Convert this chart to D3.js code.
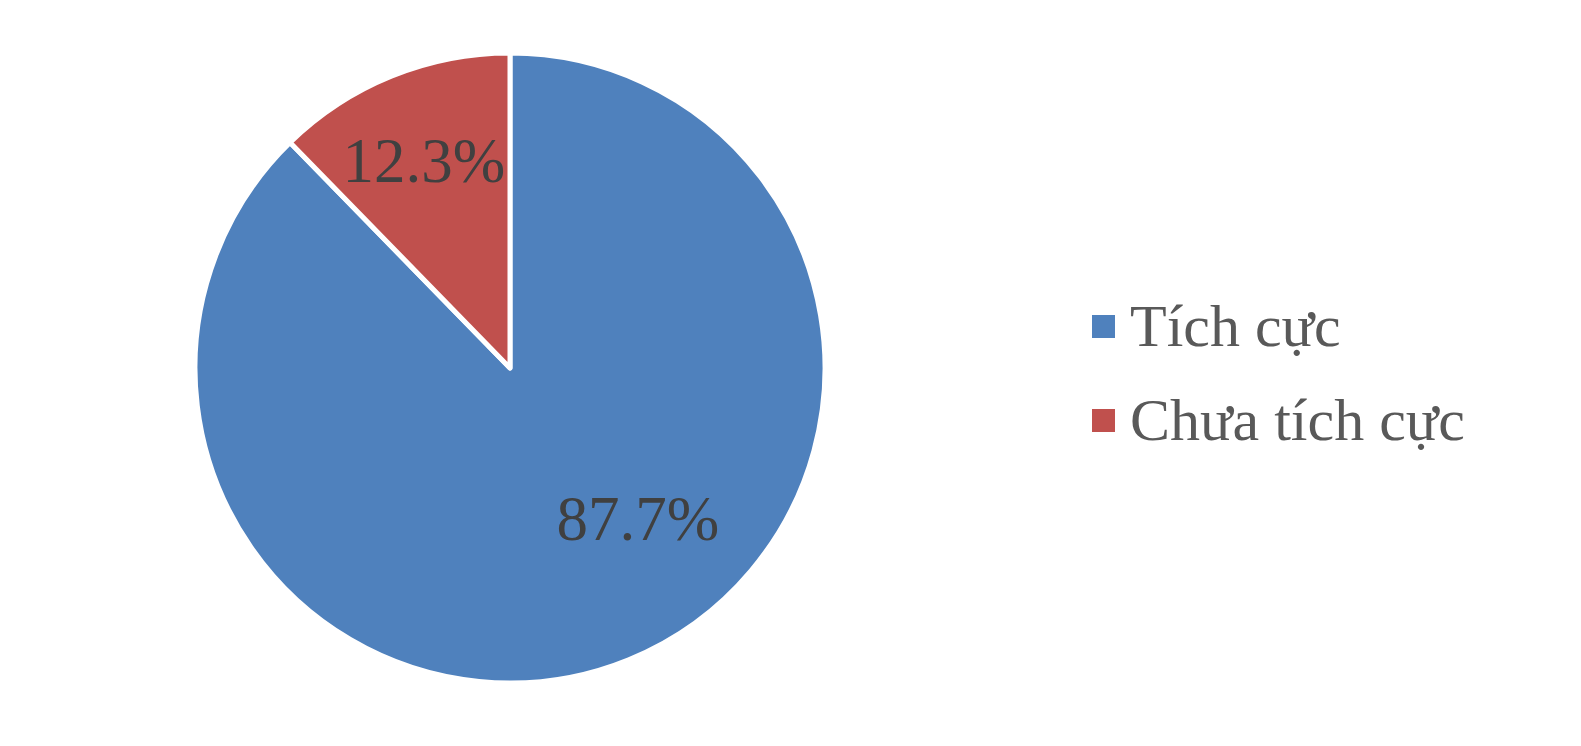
<!DOCTYPE html>
<html><head><meta charset="utf-8">
<script src="https://cdn.jsdelivr.net/npm/d3@7"></script>
<style>body{margin:0;background:#fff}</style>
</head><body>
<svg id="chart" width="1581" height="746"></svg>
<script>
const categories = ["Tích cực", "Chưa tích cực"];
const values = [87.7, 12.3];
const labels = ["87.7%", "12.3%"];
const colors = ["#4F81BD", "#C0504D"];

const svg = d3.select("#chart");
const cx = 510, cy = 368, r = 315;
const g = svg.append("g").attr("transform", `translate(${cx},${cy})`);

const pie = d3.pie().sort(null).value(d => d)
  .startAngle(0).endAngle(2 * Math.PI);
const arcs = pie(values);
const arc = d3.arc().innerRadius(0).outerRadius(r);

g.selectAll("path").data(arcs).join("path")
  .attr("d", arc)
  .attr("fill", (d, i) => colors[i])
  .attr("stroke", "#fff")
  .attr("stroke-width", 5)
  .attr("stroke-linejoin", "round");

// label positions (Excel best-fit style)
const labelPos = [
  {angle: (d) => 2.436, rad: 197},
  {angle: (d) => (d.startAngle + d.endAngle) / 2 - 0.007, rad: 225}
];
g.selectAll("text.lbl").data(arcs).join("text")
  .attr("class", "lbl")
  .attr("x", (d, i) => Math.sin(labelPos[i].angle(d)) * labelPos[i].rad)
  .attr("y", (d, i) => -Math.cos(labelPos[i].angle(d)) * labelPos[i].rad)
  .attr("dy", "0.35em")
  .attr("text-anchor", "middle")
  .attr("font-family", "'Liberation Serif', 'Times New Roman', serif")
  .attr("font-size", 63)
  .attr("fill", "#404040")
  .text((d, i) => labels[i]);

// legend
const legend = svg.append("g").attr("transform", "translate(1092,315)");
const lg = legend.selectAll("g").data(categories).join("g")
  .attr("transform", (d, i) => `translate(0,${i * 94})`);
lg.append("rect").attr("width", 23).attr("height", 23)
  .attr("fill", (d, i) => colors[i]);
lg.append("text").attr("x", 38).attr("y", 31)
  .attr("font-family", "'Liberation Serif', 'Times New Roman', serif")
  .attr("font-size", 60)
  .attr("fill", "#595959")
  .text(d => d);
</script>
</body></html>
